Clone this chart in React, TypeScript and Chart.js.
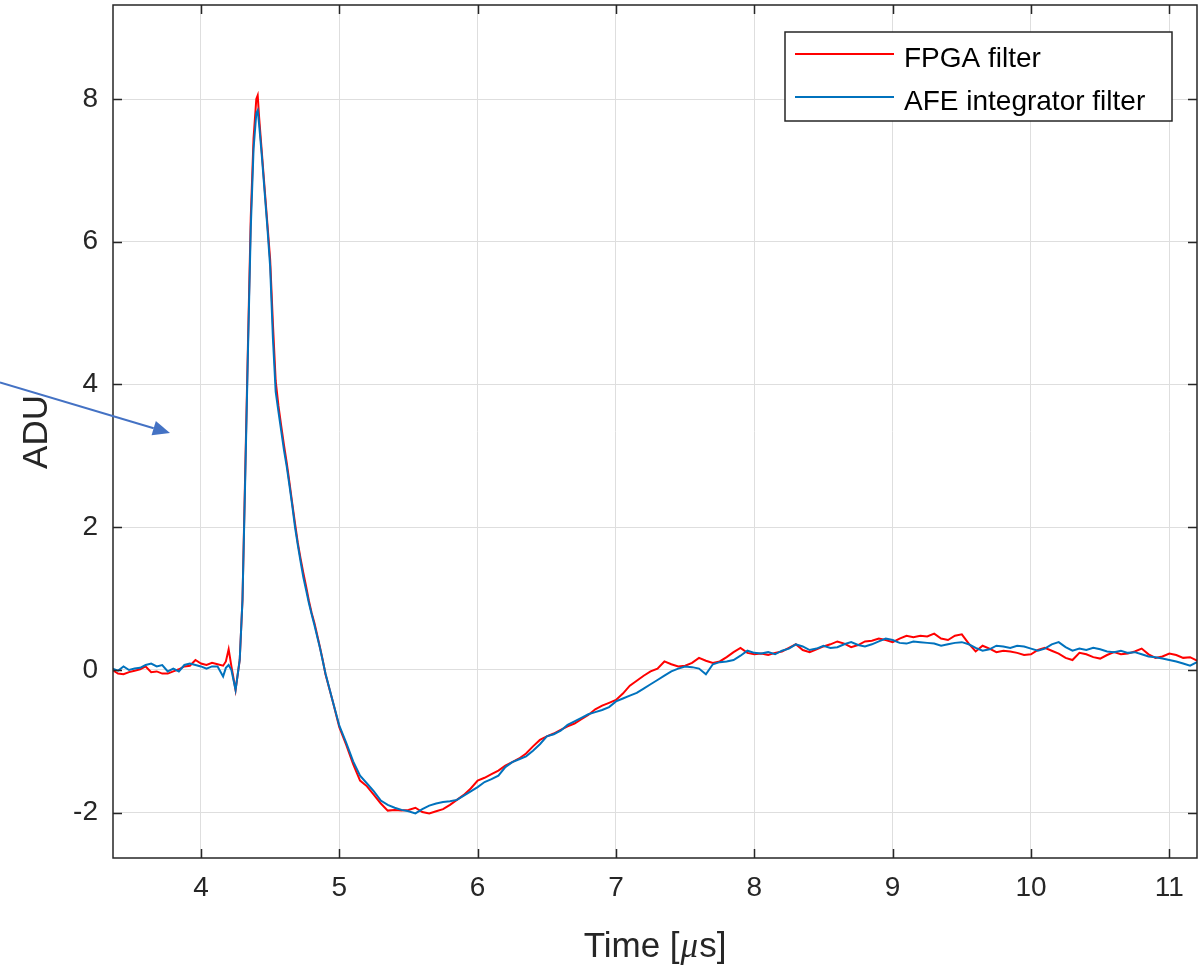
import React, { useEffect, useRef } from "react";
import { Chart, registerables } from "chart.js";

Chart.register(...registerables);

// ---- data ----
const timeUs = [
  3.36, 3.40, 3.44, 3.48, 3.52, 3.56, 3.60, 3.64, 3.68, 3.72, 3.76, 3.80, 3.84, 3.88, 3.92, 3.96, 4.00, 4.04, 4.08, 4.12, 4.16, 4.18, 4.20, 4.22, 4.25, 4.28, 4.30,
  4.32, 4.34, 4.36, 4.38, 4.40, 4.41, 4.42, 4.44, 4.46, 4.48, 4.50, 4.52, 4.54, 4.56, 4.58, 4.60, 4.62, 4.64, 4.66, 4.68, 4.70, 4.72, 4.74, 4.76, 4.78, 4.80, 4.82, 4.84, 4.86, 4.88, 4.90,
  4.95, 5.00, 5.05, 5.10, 5.15, 5.20, 5.25, 5.30, 5.35, 5.40, 5.45, 5.50, 5.55, 5.60, 5.65, 5.70, 5.75, 5.80, 5.85, 5.90, 5.95, 6.00, 6.05, 6.10, 6.15, 6.20, 6.25, 6.30, 6.35, 6.40, 6.45, 6.50, 6.55, 6.60, 6.65, 6.70, 6.75, 6.80, 6.85, 6.90, 6.95, 7.00,
  7.05, 7.10, 7.15, 7.20, 7.25, 7.30, 7.35, 7.40, 7.45, 7.50, 7.55, 7.60, 7.65, 7.70, 7.75, 7.80, 7.85, 7.90, 7.95, 8.00,
  8.05, 8.10, 8.15, 8.20, 8.25, 8.30, 8.35, 8.40, 8.45, 8.50, 8.55, 8.60, 8.65, 8.70, 8.75, 8.80, 8.85, 8.90, 8.95, 9.00,
  9.05, 9.10, 9.15, 9.20, 9.25, 9.30, 9.35, 9.40, 9.45, 9.50, 9.55, 9.60, 9.65, 9.70, 9.75, 9.80, 9.85, 9.90, 9.95, 10.00,
  10.05, 10.10, 10.15, 10.20, 10.25, 10.30, 10.35, 10.40, 10.45, 10.50, 10.55, 10.60, 10.65, 10.70, 10.75, 10.80, 10.85, 10.90, 10.95, 11.00,
  11.05, 11.10, 11.15, 11.20,
];

const fpgaFilter = [
  0.0, -0.05, -0.06, -0.03, -0.01, 0.01, 0.05, -0.03, -0.02, -0.05, -0.05, -0.02, 0.01, 0.05, 0.06, 0.14, 0.09, 0.07, 0.10, 0.08, 0.06, 0.12, 0.29, 0.05, -0.28, 0.14, 0.98,
  2.8, 4.6, 6.35, 7.45, 8.0, 8.05, 7.75, 7.25, 6.75, 6.25, 5.75, 4.85, 4.05, 3.7, 3.42, 3.15, 2.9, 2.62, 2.33, 2.05, 1.78, 1.56, 1.36, 1.17, 0.97, 0.80, 0.66, 0.49, 0.32, 0.14, -0.06,
  -0.42, -0.80, -1.05, -1.32, -1.55, -1.63, -1.75, -1.87, -1.97, -1.96, -1.97, -1.96, -1.93, -1.99, -2.01, -1.98, -1.95, -1.89, -1.82, -1.75, -1.66, -1.55, -1.51, -1.46, -1.41, -1.34, -1.29, -1.24, -1.17, -1.07, -0.98, -0.93, -0.89, -0.84, -0.79, -0.75, -0.69, -0.63, -0.55, -0.50, -0.46, -0.42,
  -0.33, -0.22, -0.15, -0.08, -0.02, 0.02, 0.12, 0.08, 0.05, 0.06, 0.10, 0.17, 0.13, 0.10, 0.12, 0.18, 0.25, 0.31, 0.24, 0.22,
  0.23, 0.21, 0.24, 0.26, 0.31, 0.36, 0.28, 0.25, 0.29, 0.33, 0.36, 0.40, 0.37, 0.32, 0.35, 0.40, 0.41, 0.44, 0.42, 0.39,
  0.44, 0.48, 0.46, 0.48, 0.47, 0.51, 0.44, 0.42, 0.48, 0.50, 0.37, 0.26, 0.34, 0.30, 0.25, 0.27, 0.26, 0.24, 0.21, 0.22,
  0.28, 0.31, 0.27, 0.23, 0.17, 0.14, 0.24, 0.22, 0.18, 0.16, 0.21, 0.25, 0.22, 0.23, 0.26, 0.30, 0.22, 0.17, 0.19, 0.23,
  0.21, 0.17, 0.18, 0.13,
];

const afeIntegratorFilter = [
  0.02, -0.01, 0.05, 0.0, 0.02, 0.03, 0.07, 0.09, 0.05, 0.07, -0.02, 0.02, -0.02, 0.07, 0.09, 0.07, 0.05, 0.02, 0.05, 0.05, -0.09, 0.03, 0.07, 0.0, -0.28, 0.14, 0.98,
  2.7, 4.5, 6.2, 7.3, 7.8, 7.84, 7.65, 7.2, 6.7, 6.2, 5.65, 4.65, 3.9, 3.62, 3.35, 3.08, 2.85, 2.58, 2.3, 2.0, 1.75, 1.52, 1.30, 1.12, 0.94, 0.78, 0.63, 0.47, 0.31, 0.13, -0.05,
  -0.42, -0.78, -1.02, -1.28, -1.48, -1.59, -1.70, -1.83, -1.89, -1.93, -1.96, -1.98, -2.01, -1.95, -1.90, -1.87, -1.85, -1.84, -1.82, -1.76, -1.70, -1.64, -1.57, -1.53, -1.48, -1.36, -1.29, -1.25, -1.21, -1.13, -1.04, -0.93, -0.90, -0.85, -0.77, -0.72, -0.67, -0.62, -0.59, -0.56, -0.52, -0.44,
  -0.40, -0.36, -0.32, -0.26, -0.20, -0.14, -0.08, -0.02, 0.02, 0.05, 0.04, 0.02, -0.06, 0.08, 0.11, 0.12, 0.14, 0.20, 0.27, 0.24,
  0.23, 0.25, 0.22, 0.27, 0.30, 0.36, 0.33, 0.28, 0.30, 0.34, 0.31, 0.32, 0.36, 0.39, 0.35, 0.33, 0.36, 0.40, 0.44, 0.42,
  0.38, 0.37, 0.40, 0.39, 0.38, 0.37, 0.34, 0.36, 0.38, 0.39, 0.36, 0.31, 0.27, 0.29, 0.34, 0.33, 0.31, 0.34, 0.33, 0.30,
  0.27, 0.30, 0.36, 0.39, 0.32, 0.27, 0.30, 0.28, 0.31, 0.29, 0.26, 0.25, 0.27, 0.24, 0.25, 0.22, 0.19, 0.18, 0.16, 0.14,
  0.12, 0.09, 0.06, 0.11,
];

const xTicks = [4, 5, 6, 7, 8, 9, 10, 11];
const yTicks = [-2, 0, 2, 4, 6, 8];
const xLimits = [3.364, 11.2];
const yLimits = [-2.634, 9.317];
const seriesLabels = ["FPGA filter", "AFE integrator filter"];
const seriesColors = ["#ff0000", "#0072bd"];
const xTitleParts = ["Time [", "\u03bc", "s]"];
const yTitle = "ADU";
// annotation arrow, in data units
const arrowFrom = { x: 2.547, y: 4.03 };
const arrowTo = { x: 3.776, y: 3.32 };

const AXIS_COLOR = "#262626";
const SANS = "'Liberation Sans', Arial, sans-serif";

const decorPlugin = {
  id: "decor",
  afterDatasetsDraw(chart: any) {
    const { ctx, chartArea: ca, scales } = chart;
    const xs = scales.x;
    const ys = scales.y;
    ctx.save();
    ctx.strokeStyle = AXIS_COLOR;
    ctx.lineWidth = 1.5;
    ctx.strokeRect(ca.left, ca.top, ca.right - ca.left, ca.bottom - ca.top);
    const tl = 9;
    ctx.beginPath();
    xTicks.forEach((v) => {
      const px = Math.round(xs.getPixelForValue(v)) + 0.5;
      ctx.moveTo(px, ca.bottom);
      ctx.lineTo(px, ca.bottom - tl);
      ctx.moveTo(px, ca.top);
      ctx.lineTo(px, ca.top + tl);
    });
    yTicks.forEach((v) => {
      const py = Math.round(ys.getPixelForValue(v)) + 0.5;
      ctx.moveTo(ca.left, py);
      ctx.lineTo(ca.left + tl, py);
      ctx.moveTo(ca.right, py);
      ctx.lineTo(ca.right - tl, py);
    });
    ctx.stroke();
    ctx.restore();
  },
  afterDraw(chart: any) {
    const { ctx, chartArea: ca, scales } = chart;
    const xs = scales.x;
    const ys = scales.y;
    ctx.save();

    // x title
    const fontN = `35px ${SANS}`;
    const fontI = `italic 35px 'Liberation Serif', serif`;
    ctx.fillStyle = AXIS_COLOR;
    ctx.textBaseline = "alphabetic";
    ctx.textAlign = "left";
    ctx.font = fontN;
    const w0 = ctx.measureText(xTitleParts[0]).width;
    const w2 = ctx.measureText(xTitleParts[2]).width;
    ctx.font = fontI;
    const w1 = ctx.measureText(xTitleParts[1]).width;
    const total = w0 + w1 + w2 + 2;
    let tx = (ca.left + ca.right) / 2 - total / 2;
    const ty = 957;
    ctx.font = fontN;
    ctx.fillText(xTitleParts[0], tx, ty);
    tx += w0 + 1;
    ctx.font = fontI;
    ctx.fillText(xTitleParts[1], tx, ty);
    tx += w1 + 1;
    ctx.font = fontN;
    ctx.fillText(xTitleParts[2], tx, ty);

    // y title
    ctx.save();
    ctx.translate(47, 432);
    ctx.rotate(-Math.PI / 2);
    ctx.textAlign = "center";
    ctx.font = fontN;
    ctx.fillText(yTitle, 0, 0);
    ctx.restore();

    // legend
    const bw = 387;
    const bh = 89;
    const bx = ca.right - 25 - bw;
    const by = ca.top + 27;
    ctx.fillStyle = "#ffffff";
    ctx.fillRect(bx, by, bw, bh);
    ctx.strokeStyle = AXIS_COLOR;
    ctx.lineWidth = 1.5;
    ctx.strokeRect(bx, by, bw, bh);
    ctx.font = `28px ${SANS}`;
    ctx.textAlign = "left";
    seriesLabels.forEach((lab, i) => {
      const ly = by + 22 + i * 43;
      ctx.strokeStyle = seriesColors[i];
      ctx.lineWidth = 2;
      ctx.beginPath();
      ctx.moveTo(bx + 10, ly);
      ctx.lineTo(bx + 109, ly);
      ctx.stroke();
      ctx.fillStyle = "#000000";
      ctx.fillText(lab, bx + 119, ly + 12.5);
    });

    // annotation arrow
    const x0 = xs.getPixelForValue(arrowFrom.x);
    const y0 = ys.getPixelForValue(arrowFrom.y);
    const x1 = xs.getPixelForValue(arrowTo.x);
    const y1 = ys.getPixelForValue(arrowTo.y);
    const ang = Math.atan2(y1 - y0, x1 - x0);
    const hl = 17;
    const hw = 7.5;
    const bxp = x1 - hl * Math.cos(ang);
    const byp = y1 - hl * Math.sin(ang);
    ctx.strokeStyle = "#4472c4";
    ctx.fillStyle = "#4472c4";
    ctx.lineWidth = 2;
    ctx.beginPath();
    ctx.moveTo(x0, y0);
    ctx.lineTo(bxp, byp);
    ctx.stroke();
    ctx.beginPath();
    ctx.moveTo(x1, y1);
    ctx.lineTo(bxp + hw * Math.sin(ang), byp - hw * Math.cos(ang));
    ctx.lineTo(bxp - hw * Math.sin(ang), byp + hw * Math.cos(ang));
    ctx.closePath();
    ctx.fill();

    ctx.restore();
  },
};

export default function App() {
  const canvasRef = useRef<HTMLCanvasElement | null>(null);

  useEffect(() => {
    document.body.style.margin = "0";
    const canvas = canvasRef.current;
    if (!canvas) return;
    const chart = new Chart(canvas, {
      type: "line",
      data: {
        datasets: [
          {
            label: seriesLabels[0],
            data: timeUs.map((t, i) => ({ x: t, y: fpgaFilter[i] })),
            borderColor: seriesColors[0],
            borderWidth: 2,
            pointRadius: 0,
            tension: 0,
            order: 1,
          },
          {
            label: seriesLabels[1],
            data: timeUs.map((t, i) => ({ x: t, y: afeIntegratorFilter[i] })),
            borderColor: seriesColors[1],
            borderWidth: 2,
            pointRadius: 0,
            tension: 0,
            order: 0,
          },
        ],
      },
      options: {
        responsive: false,
        animation: false,
        events: [],
        layout: { padding: { top: 5, right: 4, left: 0, bottom: 0 } },
        plugins: { legend: { display: false }, tooltip: { enabled: false }, title: { display: false } },
        scales: {
          x: {
            type: "linear",
            min: xLimits[0],
            max: xLimits[1],
            afterBuildTicks: (s: any) => {
              s.ticks = xTicks.map((v) => ({ value: v }));
            },
            afterFit: (s: any) => {
              s.height = 109;
              s.paddingLeft = 0;
              s.paddingRight = 0;
              s.paddingTop = 0;
              s.paddingBottom = 0;
            },
            ticks: {
              autoSkip: false,
              maxRotation: 0,
              padding: 13,
              color: AXIS_COLOR,
              font: { family: SANS, size: 28 },
              callback: (v: any) => String(v),
            },
            grid: { color: "#dedede", lineWidth: 1, drawTicks: false },
            border: { display: false },
          },
          y: {
            type: "linear",
            min: yLimits[0],
            max: yLimits[1],
            afterBuildTicks: (s: any) => {
              s.ticks = yTicks.map((v) => ({ value: v }));
            },
            afterFit: (s: any) => {
              s.width = 113;
              s.paddingLeft = 0;
              s.paddingRight = 0;
              s.paddingTop = 0;
              s.paddingBottom = 0;
            },
            ticks: {
              autoSkip: false,
              padding: 15,
              color: AXIS_COLOR,
              font: { family: SANS, size: 28 },
              callback: (v: any) => String(v),
            },
            grid: { color: "#dedede", lineWidth: 1, drawTicks: false },
            border: { display: false },
          },
        },
      },
      plugins: [decorPlugin],
    } as any);
    return () => chart.destroy();
  }, []);

  return (
    <div style={{ width: 1201, height: 967, position: "relative", background: "#fff" }}>
      <canvas ref={canvasRef} width={1201} height={967} style={{ display: "block" }} />
    </div>
  );
}
